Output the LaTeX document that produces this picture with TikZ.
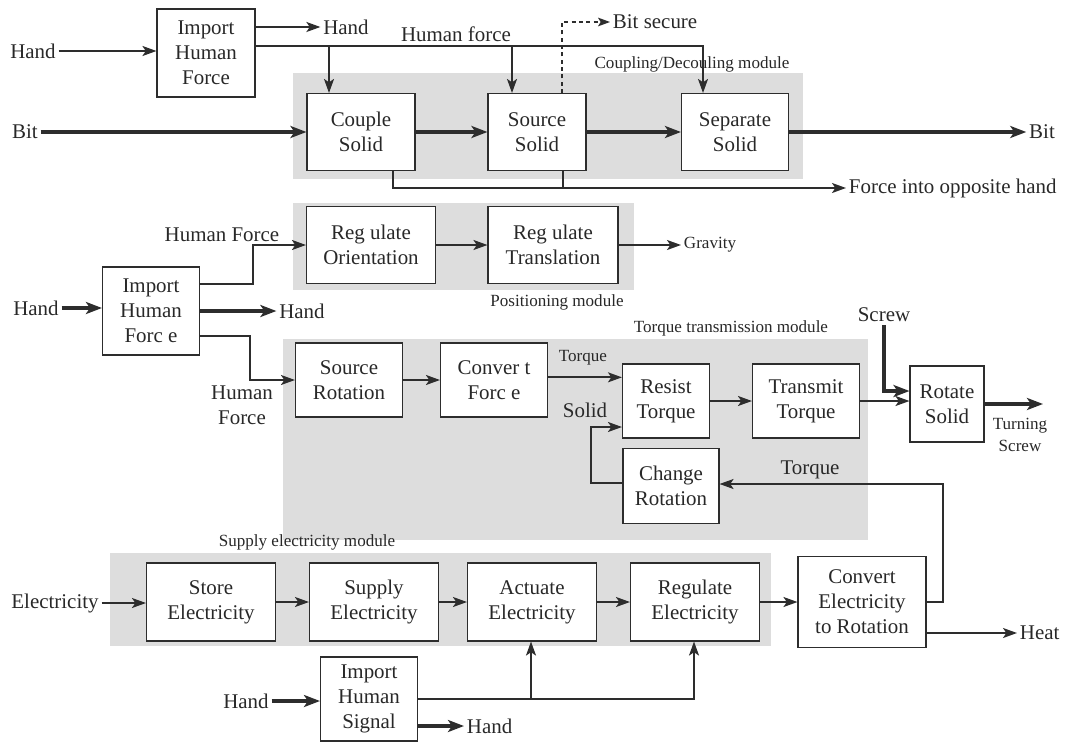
\documentclass[tikz,border=0pt]{standalone}
\usepackage{fontspec}
\setmainfont{Liberation Serif}
\definecolor{fdline}{RGB}{45,45,45}
\definecolor{fdtext}{RGB}{40,40,40}
\definecolor{fdmodule}{RGB}{221,221,221}
\usetikzlibrary{arrows.meta,calc}
\newcommand{\fdbig}{\fontsize{15.7pt}{18.8pt}\selectfont}
\newcommand{\fdsmall}{\fontsize{12.8pt}{16pt}\selectfont}
\tikzset{
  fnbox/.style 2 args={draw=fdline,line width=0.8pt,fill=white,align=center,inner sep=0pt,
    font=\fdbig,text=fdtext,minimum width=#1*0.75pt,minimum height=#2*0.75pt},
  lbl/.style={font=\fdbig,text=fdtext,inner sep=2pt,align=center},
  smlbl/.style={font=\fdsmall,text=fdtext,inner sep=2pt,align=center},
  wire/.style={draw=fdline,line width=1.3pt},
  flow/.style={wire,-{Stealth[length=10.5pt,width=7.5pt,inset=2.5pt]}},
  matflow/.style={draw=fdline,line width=3.4pt,-{Stealth[length=12pt,width=9pt,inset=3pt]}},
  sigflow/.style={draw=fdline,line width=0.8pt,dash pattern=on 3pt off 2.5pt,-{Stealth[length=9pt,width=6.5pt,inset=2pt]}}
}

\begin{document}
\begin{tikzpicture}[x=0.75pt,y=-0.75pt]
  \useasboundingbox (0,0) rectangle (1066,742);
  % Modules
  \fill[fdmodule] (293,73) rectangle (803,179);
  \fill[fdmodule] (293,203) rectangle (634,290);
  \fill[fdmodule] (283,339) rectangle (868,540);
  \fill[fdmodule] (110,553) rectangle (771,646);
  \node[smlbl] (mcoup) at (692,64) {Coupling/Decouling module};
  \node[smlbl] (mpos) at (557,302) {Positioning module};
  \node[smlbl] (mtorq) at (731,328) {Torque transmission module};
  \node[smlbl] (msup) at (307,542) {Supply electricity module};

  % Function boxes
  \node[fnbox={98}{88}] (impF1) at (206,53) {Import\\Human\\Force};
  \node[fnbox={108}{77}] (couple) at (361,132) {Couple\\Solid};
  \node[fnbox={98}{77}] (source) at (537,132) {Source\\Solid};
  \node[fnbox={107}{77}] (separate) at (735,132) {Separate\\Solid};
  \node[fnbox={97}{88}] (impF2) at (151,311) {Import\\Human\\Forc e};
  \node[fnbox={129}{77}] (orient) at (371,245) {Reg ulate\\Orientation};
  \node[fnbox={130}{77}] (transl) at (553,245) {Reg ulate\\Translation};
  \node[fnbox={107}{74}] (srcrot) at (349,380) {Source\\Rotation};
  \node[fnbox={107}{74}] (convF) at (494,380) {Conver t\\Forc e};
  \node[fnbox={87}{74}] (resist) at (666,401) {Resist\\Torque};
  \node[fnbox={107}{74}] (transmit) at (806,401) {Transmit\\Torque};
  \node[fnbox={74}{76}] (rotate) at (947,404) {Rotate\\Solid};
  \node[fnbox={96}{75}] (change) at (671,486) {Change\\Rotation};
  \node[fnbox={129}{78}] (store) at (211,602) {Store\\Electricity};
  \node[fnbox={129}{78}] (supply) at (374,602) {Supply\\Electricity};
  \node[fnbox={129}{78}] (actuate) at (532,602) {Actuate\\Electricity};
  \node[fnbox={129}{78}] (regulate) at (695,602) {Regulate\\Electricity};
  \node[fnbox={128}{91}] (convE) at (862,602) {Convert\\Electricity\\to Rotation};
  \node[fnbox={97}{84}] (impS) at (369,699) {Import\\Human\\Signal};

  % Flow labels
  \node[lbl] (handA) at (33,51) {Hand};
  \node[lbl] (handB) at (346,27) {Hand};
  \node[lbl] (lblHF) at (456,34) {Human force};
  \node[lbl,anchor=west] (bitsec) at (610,22) {Bit secure};
  \node[lbl] (bitIn) at (25,132) {Bit};
  \node[lbl] (bitOut) at (1042,132) {Bit};
  \node[lbl,anchor=west] (forceOut) at (846,188) {Force into opposite hand};
  \node[lbl] (handC) at (36,308) {Hand};
  \node[lbl] (lblHF2) at (222,235) {Human Force};
  \node[lbl] (handD) at (302,311) {Hand};
  \node[lbl] (lblHF3) at (242,405) {Human\\Force};
  \node[smlbl,anchor=west] (gravity) at (681,245) {Gravity};
  \node[smlbl] (lblTq) at (583,358) {Torque};
  \node[lbl] (lblSol) at (585,410) {Solid};
  \node[lbl] (screw) at (884,315) {Screw};
  \node[smlbl] (turning) at (1020,435) {Turning\\Screw};
  \node[lbl] (lblTq2) at (810,470) {Torque};
  \node[lbl] (elec) at (55,603) {Electricity};
  \node[lbl,anchor=west] (heat) at (1017,633) {Heat};
  \node[lbl] (handE) at (246,701) {Hand};
  \node[lbl,anchor=west] (handF) at (464,726) {Hand};

  % Bends and free ends
  \coordinate (hfR) at (703,46);
  \coordinate (hfA) at (329,46);
  \coordinate (hfB) at (512,46);
  \coordinate (bsA) at (562,22);
  \coordinate (foA) at (393,188);
  \coordinate (foB) at (563,188);
  \coordinate (hfC) at (253,284);
  \coordinate (hfD) at (250,336);
  \coordinate (slA) at (591,427);
  \coordinate (tqR) at (943,484);
  \coordinate (turnEnd) at (1043,404);
  \coordinate (sgA) at (531,699);
  \coordinate (sgR) at (694,699);

  % Coupling/decoupling
  \draw[flow] (handA.east) -- (handA.east -| impF1.west);
  \draw[flow] (impF1.east |- handB) -- (handB.west);
  \draw[flow] (impF1.east |- hfR) -- (hfR) -- (hfR |- separate.north);
  \draw[flow] (hfA) -- (hfA |- couple.north);
  \draw[flow] (hfB) -- (hfB |- source.north);
  \draw[sigflow] (bsA |- source.north) -- (bsA) -- (bitsec.west);
  \draw[matflow] (bitIn.east) -- (couple.west);
  \draw[matflow] (couple) -- (source);
  \draw[matflow] (source) -- (separate);
  \draw[matflow] (separate.east) -- (bitOut.west);
  \draw[flow] (foA |- couple.south) -- (foA) -- (forceOut.west);
  \draw[wire] (foB |- source.south) -- (foB);

  % Positioning and torque
  \draw[matflow] (handC.east) -- (handC.east -| impF2.west);
  \draw[flow] (impF2.east |- hfC) -- (hfC) |- (orient.west);
  \draw[matflow] (impF2.east |- handD) -- (handD.west);
  \draw[flow] (impF2.east |- hfD) -- (hfD) |- (srcrot.west);
  \draw[flow] (orient) -- (transl);
  \draw[flow] (transl.east) -- (gravity.west);
  \draw[flow] (srcrot) -- (convF);
  \draw[flow] ([yshift=2pt]convF.east) -- ([yshift=2pt]convF.east -| resist.west);
  \draw[flow] (resist) -- (transmit);
  \draw[flow] (transmit.east) -- (transmit.east -| rotate.west);
  \draw[matflow] (screw.south) |- ([yshift=9.75pt]rotate.west);
  \draw[matflow] (rotate.east) -- (turnEnd);
  \draw[flow] ([yshift=2pt]change.west) -| (slA) -- (slA -| resist.west);
  \draw[flow] (convE.east) -| (tqR) -- (tqR -| change.east);

  % Supply electricity
  \draw[flow] (elec.east) -- (elec.east -| store.west);
  \foreach \a/\b in {store/supply,supply/actuate,actuate/regulate,regulate/convE}
    \draw[flow] (\a) -- (\b);
  \draw[flow] (convE.east |- heat.west) -- (heat.west);
  \draw[matflow] (handE.east) -- (handE.east -| impS.west);
  \draw[flow] (impS.east |- sgR) -- (sgR) -- (sgR |- regulate.south);
  \draw[flow] (sgA) -- (sgA |- actuate.south);
  \draw[matflow] (impS.east |- handF.west) -- (handF.west);
\end{tikzpicture}
\end{document}
